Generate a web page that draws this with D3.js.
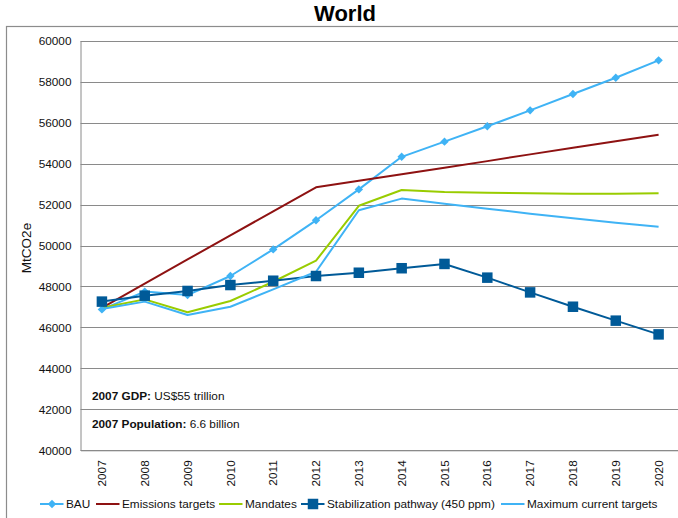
<!DOCTYPE html>
<html>
<head>
<meta charset="utf-8">
<script src="https://cdn.jsdelivr.net/npm/d3@7"></script>
<style>
  html, body { margin: 0; padding: 0; background: #fff; }
  svg { display: block; font-family: Arial, "Liberation Sans", sans-serif; }
</style>
</head>
<body>
<svg id="chart" width="678" height="518"></svg>
<script>
// Years on the category axis
const years = ["2007","2008","2009","2010","2011","2012","2013","2014","2015","2016","2017","2018","2019","2020"];

// Emissions by scenario, MtCO2e
const bau            = [46880, 47750, 47580, 48510, 49810, 51230, 52740, 54330, 55070, 55820, 56600, 57400, 58190, 59040];
const emissionsTgts  = [46960, 48140, 49320, 50490, 51670, 52840, 53160, 53480, 53800, 54120, 54450, 54770, 55090, 55410];
const mandates       = [46960, 47370, 46740, 47290, 48230, 49260, 51940, 52710, 52610, 52580, 52550, 52530, 52530, 52550];
const stabilization  = [47260, 47550, 47780, 48070, 48280, 48510, 48670, 48890, 49100, 48430, 47710, 47010, 46330, 45660];
const maxCurrent     = [46900, 47260, 46610, 47010, 47860, 48720, 51720, 52290, 52040, 51800, 51550, 51330, 51110, 50920];

const yTicks = [40000, 42000, 44000, 46000, 48000, 50000, 52000, 54000, 56000, 58000, 60000];

const seriesNames = ["BAU", "Emissions targets", "Mandates", "Stabilization pathway (450 ppm)", "Maximum current targets"];

const colors = {
  bau: "#3fb3f5",
  emis: "#8e1212",
  mand: "#99cc00",
  stab: "#005a98",
  max: "#3fb3f5"
};

const series = [
  { name: seriesNames[0], values: bau, color: colors.bau, marker: "diamond" },
  { name: seriesNames[1], values: emissionsTgts, color: colors.emis, marker: null },
  { name: seriesNames[2], values: mandates, color: colors.mand, marker: null },
  { name: seriesNames[3], values: stabilization, color: colors.stab, marker: "square" },
  { name: seriesNames[4], values: maxCurrent, color: colors.max, marker: null }
];

const svg = d3.select("#chart");
const plot = { left: 80.5, right: 680, top: 40.7, bottom: 450.3 };

const x = d3.scaleBand().domain(years).range([plot.left, plot.right]);
const y = d3.scaleLinear().domain([40000, 60000]).range([plot.bottom, plot.top]);
const cx = d => x(d) + x.bandwidth() / 2;

// Outer chart frame
svg.append("rect")
  .attr("x", 6.5).attr("y", 26.5)
  .attr("width", 700).attr("height", 520)
  .attr("fill", "none").attr("stroke", "#8c8c8c").attr("stroke-width", 1.2);

// Title
svg.append("text")
  .attr("x", 345).attr("y", 21)
  .attr("text-anchor", "middle")
  .style("font-size", "22px").style("font-weight", "bold")
  .text("World");

// Horizontal gridlines
svg.append("g")
  .selectAll("line")
  .data(yTicks)
  .join("line")
  .attr("x1", plot.left).attr("x2", plot.right)
  .attr("y1", d => Math.round(y(d)) + 0.5).attr("y2", d => Math.round(y(d)) + 0.5)
  .attr("stroke", "#8a8a8a").attr("stroke-width", 1);

// Y axis
const yAxis = svg.append("g")
  .attr("transform", `translate(${plot.left},0)`)
  .call(d3.axisLeft(y).tickValues(yTicks).tickFormat(d3.format("d")).tickSize(0).tickPadding(9));
yAxis.select(".domain").attr("stroke", "#8a8a8a");
yAxis.selectAll("text").style("font-size", "11.8px").attr("fill", "#111").attr("font-family", "Arial, 'Liberation Sans', sans-serif");

// X axis
const xAxis = svg.append("g")
  .attr("transform", `translate(0,${plot.bottom})`)
  .call(d3.axisBottom(x).tickSize(0));
xAxis.select(".domain").attr("stroke", "#8a8a8a");
xAxis.selectAll("text")
  .style("font-size", "11.8px").attr("fill", "#111")
  .attr("font-family", "Arial, 'Liberation Sans', sans-serif")
  .attr("text-anchor", "end")
  .attr("transform", "rotate(-90)")
  .attr("x", -10).attr("y", 0).attr("dy", "0.35em");

// Y axis title
svg.append("text")
  .attr("transform", "translate(30.5,248) rotate(-90)")
  .attr("text-anchor", "middle")
  .style("font-size", "13.5px")
  .attr("fill", "#111")
  .text("MtCO2e");

// Lines
const line = d3.line().x((d, i) => cx(years[i])).y(d => y(d));
series.forEach(s => {
  svg.append("path")
    .datum(s.values)
    .attr("fill", "none")
    .attr("stroke", s.color)
    .attr("stroke-width", 2)
    .attr("stroke-linejoin", "round")
    .attr("d", line);
});

// Markers
function drawMarker(g, type, px, py, color) {
  if (type === "diamond") {
    const r = 4.2;
    g.append("path")
      .attr("d", `M${px},${py - r}L${px + r},${py}L${px},${py + r}L${px - r},${py}Z`)
      .attr("fill", color);
  } else if (type === "square") {
    const s = 10.5;
    g.append("rect")
      .attr("x", px - s / 2).attr("y", py - s / 2)
      .attr("width", s).attr("height", s)
      .attr("fill", color);
  }
}
series.filter(s => s.marker).forEach(s => {
  const g = svg.append("g");
  s.values.forEach((v, i) => drawMarker(g, s.marker, cx(years[i]), y(v), s.color));
});

// Notes inside plot
const notes = [
  { bold: "2007 GDP:", rest: " US$55 trillion", y: 399.5 },
  { bold: "2007 Population:", rest: " 6.6 billion", y: 427.5 }
];
notes.forEach(n => {
  const t = svg.append("text").attr("x", 92).attr("y", n.y).style("font-size", "11.8px").attr("fill", "#111");
  t.append("tspan").style("font-weight", "bold").text(n.bold);
  t.append("tspan").text(n.rest);
});

// Legend
const legendItems = [
  { s: series[0], x: 40 },
  { s: series[1], x: 96 },
  { s: series[2], x: 219 },
  { s: series[3], x: 301 },
  { s: series[4], x: 501 }
];
const ly = 504;
legendItems.forEach(it => {
  const g = svg.append("g");
  g.append("line")
    .attr("x1", it.x).attr("x2", it.x + 23.5)
    .attr("y1", ly).attr("y2", ly)
    .attr("stroke", it.s.color).attr("stroke-width", 2);
  if (it.s.marker) drawMarker(g, it.s.marker, it.x + 12, ly, it.s.color);
  g.append("text")
    .attr("x", it.x + 26).attr("y", ly + 3.8)
    .style("font-size", "11.8px").attr("fill", "#111")
    .text(it.s.name);
});
</script>
</body>
</html>
